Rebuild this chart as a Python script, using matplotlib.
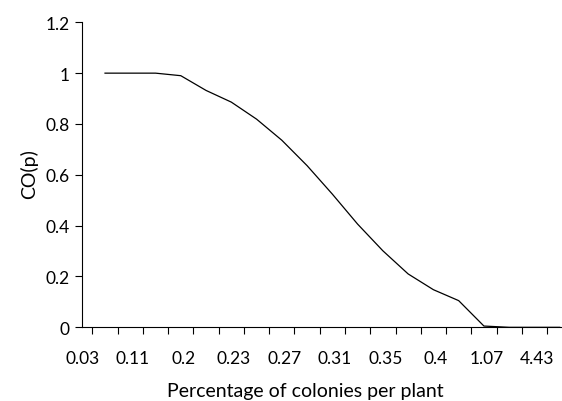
import matplotlib.pyplot as plt
import numpy as np

# x category labels (every other category is labelled)
x_labels = ['0.03', '0.11', '0.2', '0.23', '0.27', '0.31', '0.35', '0.4', '1.07', '4.43']
# CO(p) per category
co_p = [1.0, 1.0, 1.0, 0.99, 0.932, 0.886, 0.819, 0.736, 0.636, 0.524,
        0.406, 0.301, 0.21, 0.148, 0.105, 0.005, 0.0, 0.0, 0.0]
y_ticks = [0, 0.2, 0.4, 0.6, 0.8, 1, 1.2]

plt.rcParams['font.family'] = ['Lato', 'DejaVu Sans']

fig = plt.figure(figsize=(5.62, 4.02), dpi=100)
ax = fig.add_axes([0.1464, 0.1833, 0.872, 0.7587])

pos = np.arange(len(co_p))
ax.plot(pos, co_p, color='black', linewidth=0.9)

ax.set_xlim(-0.5, len(co_p) - 0.5)
ax.set_ylim(0, 1.2)

# tick marks between categories, labels offset like the original
ax.set_xticks(np.arange(len(co_p) + 1) - 0.5, minor=True)
ax.set_xticks(np.arange(len(x_labels)) * 2 - 0.9)
ax.set_xticklabels(x_labels)
ax.tick_params(axis='x', which='major', length=0, pad=16, labelsize=12.5)
ax.tick_params(axis='x', which='minor', length=5, width=0.8, direction='out')

ax.set_yticks(y_ticks)
ax.set_yticklabels(['{:g}'.format(v) for v in y_ticks])
ax.tick_params(axis='y', length=5, width=0.8, direction='out', pad=4, labelsize=12.5)

for s in ['top', 'right']:
    ax.spines[s].set_visible(False)
for s in ['left', 'bottom']:
    ax.spines[s].set_linewidth(0.8)

ax.set_xlabel('Percentage of colonies per plant', fontsize=14)
ax.xaxis.set_label_coords(0.456, -0.18)
ax.set_ylabel('CO(p)', fontsize=14)
ax.yaxis.set_label_coords(-0.09, 0.505)

fig.savefig('out.png', dpi=100)
